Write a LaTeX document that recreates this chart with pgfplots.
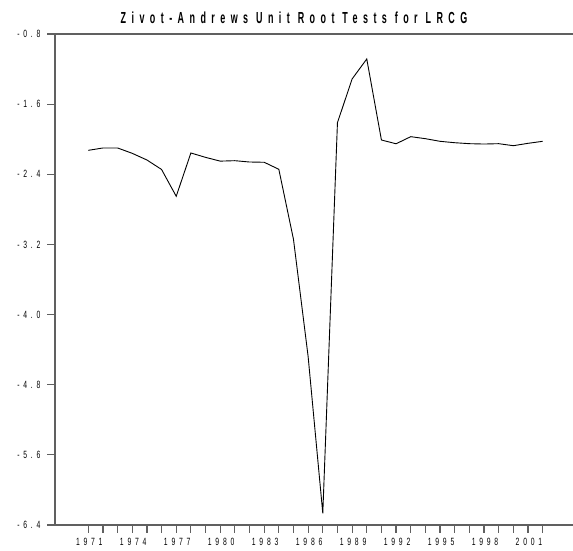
\documentclass[border=0pt]{standalone}
\usepackage{fontspec}
\setmainfont{Liberation Sans}
\newfontfamily\titlefont[FakeStretch=0.56, LetterSpace=34]{Liberation Sans}
\newfontfamily\tickfont[FakeStretch=0.65, LetterSpace=36]{Liberation Sans}
\usepackage{pgfplots}
\pgfplotsset{compat=1.18}

\definecolor{axisgray}{RGB}{96,96,96}

\pgfplotstableread{
year  za
1971  -2.127
1972  -2.100
1973  -2.100
1974  -2.161
1975  -2.237
1976  -2.345
1977  -2.651
1978  -2.157
1979  -2.207
1980  -2.250
1981  -2.245
1982  -2.260
1983  -2.263
1984  -2.343
1985  -3.142
1986  -4.480
1987  -6.267
1988  -1.811
1989  -1.313
1990  -1.085
1991  -2.009
1992  -2.052
1993  -1.971
1994  -1.994
1995  -2.024
1996  -2.040
1997  -2.051
1998  -2.055
1999  -2.051
2000  -2.074
2001  -2.047
2002  -2.024
}\zatable

\begin{document}
\begin{tikzpicture}
% page is 573 x 551, axis box lower-left at (0,0)
\useasboundingbox (-55pt,-26pt) rectangle (518pt,525pt);
\begin{axis}[
    at={(0pt,0pt)}, anchor=south west,
    scale only axis,
    width=518pt, height=491pt,
    xmin=1968.73, xmax=2004.07,
    ymin=-6.4, ymax=-0.8,
    axis x line*=bottom,
    axis y line*=left,
    axis line style={color=axisgray, line width=1.2pt},
    tick style={color=axisgray, line width=1.2pt},
    tick align=outside,
    major tick length=8pt,
    minor tick length=8pt,
    xtick={1971,1974,1977,1980,1983,1986,1989,1992,1995,1998,2001},
    xticklabels={1971,1974,1977,1980,1983,1986,1989,1992,1995,1998,2001},
    minor xtick={1972,1973,1975,1976,1978,1979,1981,1982,1984,1985,1987,1988,1990,1991,1993,1994,1996,1997,1999,2000,2002},
    ytick={-6.4,-5.6,-4.8,-4.0,-3.2,-2.4,-1.6,-0.8},
    yticklabels={-6.4,-5.6,-4.8,-4.0,-3.2,-2.4,-1.6,-0.8},
    ticklabel style={font=\tickfont\fontsize{10.5}{12}\selectfont, text=black},
    xticklabel style={yshift=-2pt, xshift=1pt},
    yticklabel style={xshift=-3pt},
    clip=false,
]
\addplot[black, line width=0.9pt, mark=none] table[x=year, y=za] {\zatable};
\draw[axisgray, line width=1.2pt] (rel axis cs:0,1) -- (rel axis cs:1,1);
\end{axis}
\node[anchor=base, font=\titlefont\bfseries\fontsize{16}{18}\selectfont, text=black] at (239pt,501pt) {Zivot-Andrews Unit Root Tests for LRCG};
\end{tikzpicture}
\end{document}
